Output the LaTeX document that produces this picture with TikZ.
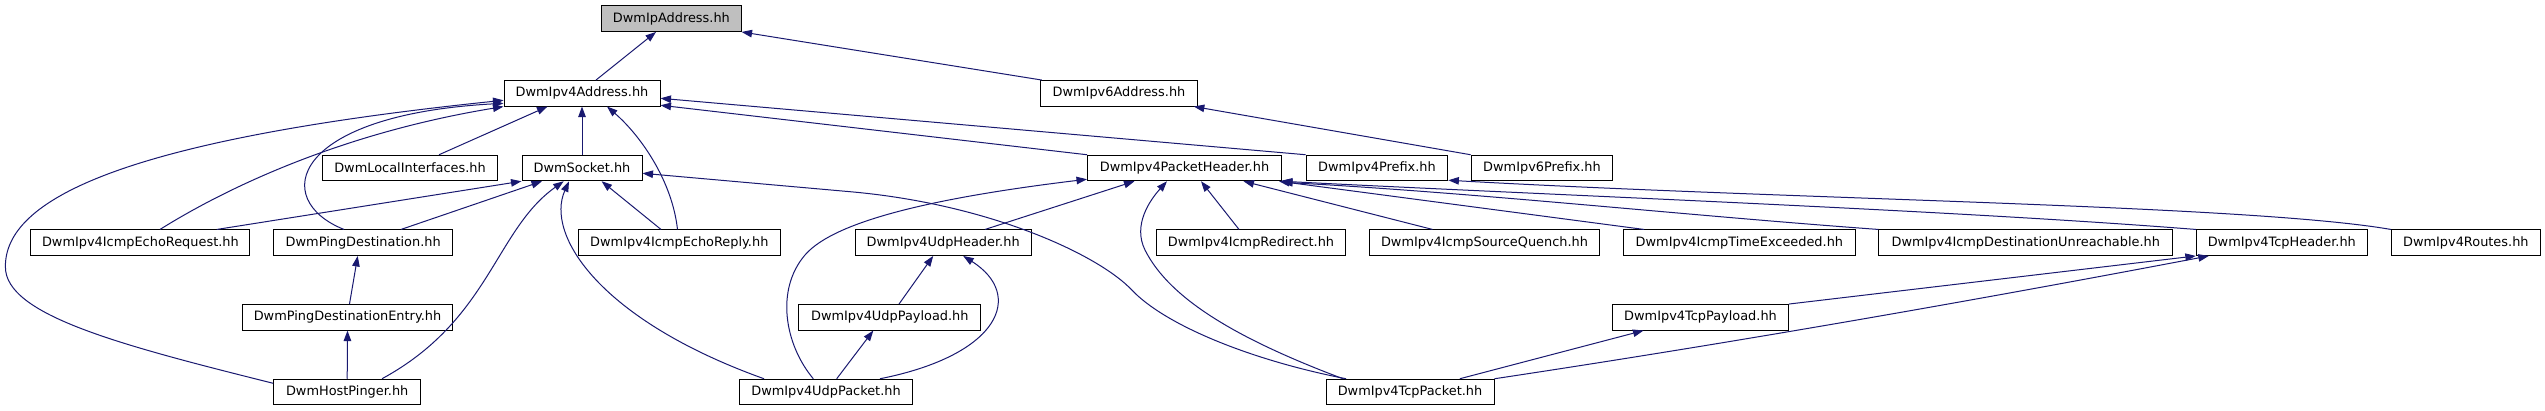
\documentclass[tikz,border=0pt]{standalone}
\usepackage{fontspec}
\setmainfont{DejaVu Sans}
\usetikzlibrary{arrows.meta}
\definecolor{edgeblue}{HTML}{191970}
\definecolor{boxgray}{HTML}{BFBFBF}
\begin{document}
\begin{tikzpicture}[x=1pt,y=1pt,
  box/.style={draw=black, line width=1pt, fill=white, minimum height=25.5pt, inner sep=0pt,
    font=\fontsize{12.9}{15}\selectfont},
  dep/.style={draw=edgeblue, line width=1pt, -{Triangle[length=10.5pt,width=7.5pt]}}]
\fill[white] (0,0) rectangle (2545,-411);
\useasboundingbox (0,0) rectangle (2545,-411);
% row 0
\node[box, fill=boxgray, minimum width=139.3] (ipaddr) at (671.4,-18.7) {DwmIpAddress.hh};
% row 1
\node[box, minimum width=156] (ipv4addr) at (582,-93.3) {DwmIpv4Address.hh};
\node[box, minimum width=156.7] (ipv6addr) at (1119,-93.3) {DwmIpv6Address.hh};
% row 2
\node[box, minimum width=175] (localif) at (410,-168) {DwmLocalInterfaces.hh};
\node[box, minimum width=120] (socket) at (582,-168) {DwmSocket.hh};
\node[box, minimum width=194] (packetheader) at (1184.5,-168) {DwmIpv4PacketHeader.hh};
\node[box, minimum width=141.7] (ipv4prefix) at (1377,-168) {DwmIpv4Prefix.hh};
\node[box, minimum width=141.7] (ipv6prefix) at (1542,-168) {DwmIpv6Prefix.hh};
% row 3
\node[box, minimum width=219] (echorequest) at (140.4,-242.7) {DwmIpv4IcmpEchoRequest.hh};
\node[box, minimum width=178.8] (pingdest) at (363.2,-242.7) {DwmPingDestination.hh};
\node[box, minimum width=201.7] (echoreply) at (679.3,-242.7) {DwmIpv4IcmpEchoReply.hh};
\node[box, minimum width=175.7] (udpheader) at (943.2,-242.7) {DwmIpv4UdpHeader.hh};
\node[box, minimum width=189.7] (icmpredirect) at (1251,-242.7) {DwmIpv4IcmpRedirect.hh};
\node[box, minimum width=230.4] (sourcequench) at (1484.5,-242.7) {DwmIpv4IcmpSourceQuench.hh};
\node[box, minimum width=231.6] (timeexceeded) at (1739.4,-242.7) {DwmIpv4IcmpTimeExceeded.hh};
\node[box, minimum width=293.7] (destunreach) at (2025.8,-242.7) {DwmIpv4IcmpDestinationUnreachable.hh};
\node[box, minimum width=171] (tcpheader) at (2281.8,-242.7) {DwmIpv4TcpHeader.hh};
\node[box, minimum width=148.8] (routes) at (2465.8,-242.7) {DwmIpv4Routes.hh};
% row 4
\node[box, minimum width=210.3] (pingdestentry) at (347.5,-317.3) {DwmPingDestinationEntry.hh};
\node[box, minimum width=181.7] (udppayload) at (889.8,-317.3) {DwmIpv4UdpPayload.hh};
\node[box, minimum width=175.7] (tcppayload) at (1700.5,-317.3) {DwmIpv4TcpPayload.hh};
% row 5
\node[box, minimum width=147] (hostpinger) at (347.2,-392) {DwmHostPinger.hh};
\node[box, minimum width=173.4] (udppacket) at (826,-392) {DwmIpv4UdpPacket.hh};
\node[box, minimum width=168] (tcppacket) at (1410,-392) {DwmIpv4TcpPacket.hh};

% edges to DwmIpAddress / DwmIpv6Address
\draw[dep] ([xshift=14]ipv4addr.north) -- ([xshift=-15.4]ipaddr.south);
\draw[dep] ([xshift=1.6]ipv6addr.north west) -- (ipaddr.south east);
\draw[dep] (ipv6prefix.north west) -- ([xshift=-4]ipv6addr.south east);
% edges to DwmIpv4Address
\draw[dep] ([xshift=29]localif.north) -- ([xshift=-34.5]ipv4addr.south);
\draw[dep] (socket.north) -- (ipv4addr.south);
\draw[dep] ([xshift=-1.8]echoreply.north) .. controls (672,-180) and (640,-135) .. ([xshift=25]ipv4addr.south);
\draw[dep] ([xshift=19.6]echorequest.north) .. controls (215,-195) and (330,-135) .. (ipv4addr.south west);
\draw[dep] ([xshift=-19.2]pingdest.north) .. controls (270,-200) and (290,-115) .. ([yshift=-10]ipv4addr.west);
\draw[dep] ([yshift=8.7]hostpinger.west) .. controls (120,-345) and (5,-315) .. (5.4,-266.7)
  .. controls (5,-200) and (120,-140) .. ([yshift=-7]ipv4addr.west);
\draw[dep] (packetheader.north west) -- ([yshift=1.3]ipv4addr.south east);
\draw[dep] (ipv4prefix.north west) -- ([yshift=-5]ipv4addr.east);
% edges to DwmSocket
\draw[dep] ([xshift=76.4]echorequest.north) -- (socket.south west);
\draw[dep] ([xshift=37.8]pingdest.north) -- ([xshift=-40]socket.south);
\draw[dep] ([xshift=-18.3]echoreply.north) -- ([xshift=19.6]socket.south);
\draw[dep] ([xshift=34.8]hostpinger.north) .. controls (490,-320) and (495,-230) .. ([xshift=-18.3]socket.south);
\draw[dep] ([xshift=-62]udppacket.north) .. controls (600,-320) and (545,-235) .. ([xshift=-13]socket.south);
\draw[dep] ([xshift=-64]tcppacket.north) .. controls (1250,-360) and (1165,-325) .. (1131.8,-290)
  .. controls (1098.8,-255) and (990,-204) .. (850,-191.7) -- ([yshift=-5.3]socket.east);
% ping destination chain
\draw[dep] ([xshift=2]pingdestentry.north) -- ([xshift=-5.5]pingdest.south);
\draw[dep] (hostpinger.north) -- (pingdestentry.south);
% edges to DwmIpv4PacketHeader
\draw[dep] ([xshift=-12.7]udppacket.north) .. controls (785,-345) and (775,-290) .. (805,-255)
  .. controls (835,-220) and (940,-197) .. ([yshift=2]packetheader.south west);
\draw[dep] ([xshift=41.8]udpheader.north) -- ([xshift=-50]packetheader.south);
\draw[dep] ([xshift=-67]tcppacket.north) .. controls (1240,-340) and (1170,-300) .. (1145,-250)
  .. controls (1132.5,-225) and (1150,-200) .. ([xshift=-17.5]packetheader.south);
\draw[dep] ([xshift=-12]icmpredirect.north) -- ([xshift=16.5]packetheader.south);
\draw[dep] ([xshift=-52]sourcequench.north) -- ([xshift=59]packetheader.south);
\draw[dep] ([xshift=-95.4]timeexceeded.north) -- ([xshift=-3]packetheader.south east);
\draw[dep] (destunreach.north west) .. controls (1680,-215) and (1480,-193) .. ([yshift=-1]packetheader.south east);
\draw[dep] (tcpheader.north west) .. controls (1950,-210) and (1550,-195) .. (packetheader.south east);
% edge to DwmIpv4Prefix
\draw[dep] (routes.north west) .. controls (2250,-205) and (1800,-200) .. ([yshift=1]ipv4prefix.south east);
% udp
\draw[dep] ([xshift=9.2]udppayload.north) -- ([xshift=-10]udpheader.south);
\draw[dep] ([xshift=54]udppacket.north) .. controls (1000,-355) and (1025,-295) .. ([xshift=20]udpheader.south);
\draw[dep] ([xshift=10.7]udppacket.north) -- ([xshift=-16.5]udppayload.south);
% tcp
\draw[dep] (tcppayload.north east) -- (tcpheader.south west);
\draw[dep] (tcppacket.north east) .. controls (1732,-343) and (1972,-301) .. ([xshift=13]tcpheader.south west);
\draw[dep] ([xshift=49.8]tcppacket.north) -- ([xshift=-57]tcppayload.south);
\end{tikzpicture}
\end{document}
